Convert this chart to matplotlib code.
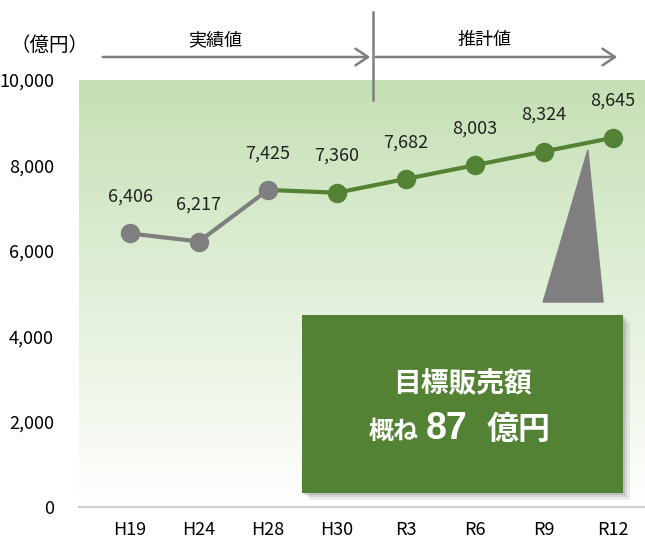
import matplotlib
matplotlib.use('Agg')
import matplotlib.pyplot as plt
import numpy as np
from matplotlib.colors import LinearSegmentedColormap
from matplotlib.patches import Polygon, Rectangle, FancyArrowPatch

plt.rcParams['font.family'] = ['Noto Sans CJK JP', 'DejaVu Sans']

years = ['H19', 'H24', 'H28', 'H30', 'R3', 'R6', 'R9', 'R12']
sales = [6406, 6217, 7425, 7360, 7682, 8003, 8324, 8645]
n_actual = 3  # H19..H28 are actual values
yticks = [0, 2000, 4000, 6000, 8000, 10000]

GRAY = '#7f7f7f'
GREEN = '#548235'

fig = plt.figure(figsize=(6.45, 5.41), dpi=100)
ax = fig.add_axes([0.1225, 0.0628, 0.8775, 0.7894])

x = np.arange(len(years))

# background gradient, light green on top fading to white
cmap = LinearSegmentedColormap.from_list('bg', ['#ffffff', '#e2efd9', '#c5e0b4'])
grad = np.linspace(0, 1, 256).reshape(-1, 1)
ax.imshow(grad, cmap=cmap, origin='lower', aspect='auto',
          extent=[0, 1, 0, 1], transform=ax.transAxes, zorder=0)

ax.plot(x[:n_actual], sales[:n_actual], color=GRAY, lw=3, zorder=3)
ax.plot(x[n_actual - 1:], sales[n_actual - 1:], color=GREEN, lw=3, zorder=3)
ax.plot(x[:n_actual], sales[:n_actual], 'o', color=GRAY, ms=13, zorder=4)
ax.plot(x[n_actual:], sales[n_actual:], 'o', color=GREEN, ms=13, zorder=4)

for xi, v in zip(x, sales):
    ax.annotate(f'{v:,}', (xi, v), xytext=(0, 20), textcoords='offset points',
                ha='center', va='bottom', fontsize=13, color='#222222')

ax.set_xlim(-0.74, 7.47)
ax.set_ylim(0, 10000)
ax.set_xticks(x)
ax.set_xticklabels(years, fontsize=13)
ax.set_yticks(yticks)
ax.set_yticklabels([f'{t:,}' for t in yticks], fontsize=13)
ax.tick_params(length=0, pad=10)
ax.tick_params(axis='y', pad=18)
for s in ax.spines.values():
    s.set_visible(False)
ax.axhline(0, color='#d0d0d0', lw=1.5, zorder=2, clip_on=False)

# callout triangle and target box
tri = Polygon([[0.899, 0.836], [0.820, 0.48], [0.926, 0.48]], closed=True,
              transform=ax.transAxes, color=GRAY, zorder=5)
ax.add_patch(tri)
for k, a in enumerate([0.25, 0.2, 0.15]):
    d = 0.004 * (k + 1)
    ax.add_patch(Rectangle((0.394 + d, 0.033 - d * 1.3), 0.567, 0.417,
                           transform=ax.transAxes, color='#808080', alpha=a,
                           lw=0, zorder=5))
box = Rectangle((0.394, 0.033), 0.567, 0.417, transform=ax.transAxes,
                color=GREEN, lw=0, zorder=6)
ax.add_patch(box)
ax.text(0.678, 0.29, '目標販売額', transform=ax.transAxes, ha='center', va='center',
        color='white', fontsize=20, fontweight='bold', zorder=7)
ax.text(0.600, 0.176, '概ね', transform=ax.transAxes, ha='right', va='center',
        color='white', fontsize=18, fontweight='bold', zorder=7)
ax.text(0.650, 0.182, '87', transform=ax.transAxes, ha='center', va='center',
        color='white', fontsize=27, fontweight='bold', family='Liberation Sans', zorder=7)
ax.text(0.721, 0.18, '億円', transform=ax.transAxes, ha='left', va='center',
        color='white', fontsize=23, fontweight='bold', zorder=7)

# header: unit and actual/estimate arrows
fig.text(50 / 645, 1 - 45 / 541, '（億円）', ha='center', va='center', fontsize=14)
for x0, x1 in [(100, 373), (373, 620)]:
    fig.add_artist(FancyArrowPatch((x0 / 645, 1 - 57 / 541), (x1 / 645, 1 - 57 / 541),
                                   transform=fig.transFigure,
                                   arrowstyle='->,head_length=9,head_width=6',
                                   color=GRAY, lw=1.8, mutation_scale=1))
fig.add_artist(plt.Line2D([373 / 645, 373 / 645], [1 - 12 / 541, 1 - 100 / 541],
                          transform=fig.transFigure, color=GRAY, lw=1.8))
fig.text(215 / 645, 1 - 40 / 541, '実績値', ha='center', va='center', fontsize=13)
fig.text(485 / 645, 1 - 40 / 541, '推計値', ha='center', va='center', fontsize=13)

fig.savefig('out.png', dpi=100)
